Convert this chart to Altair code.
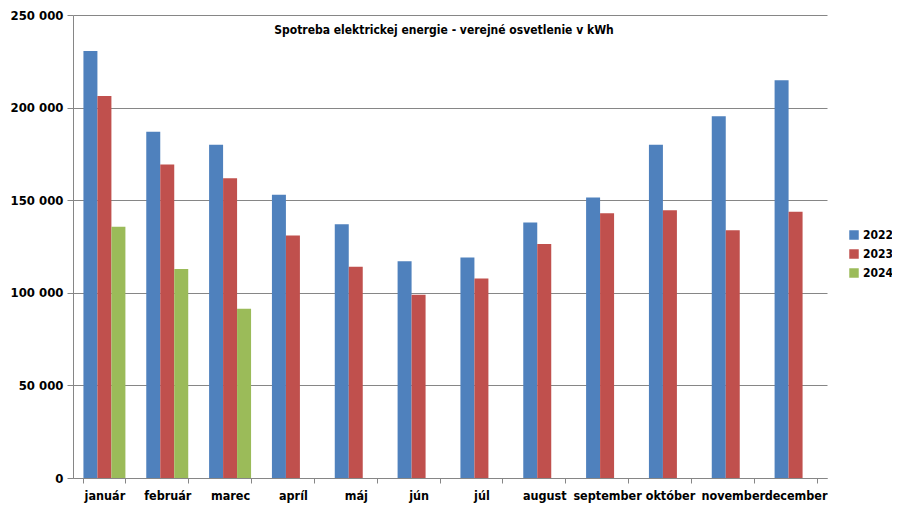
import altair as alt
import pandas as pd

months = ["január", "február", "marec", "apríl", "máj", "jún", "júl",
          "august", "september", "október", "november", "december"]
years = ["2022", "2023", "2024"]
v2022 = [230500, 187000, 180000, 153000, 137000, 117000, 119000, 138000, 151500, 180000, 195300, 214800]
v2023 = [206300, 169300, 161800, 131000, 114000, 99000, 107700, 126400, 143000, 144600, 133800, 143700]
v2024 = [135600, 112900, 91400]
colors = ["#4F81BD", "#C0504D", "#9BBB59"]

rows = []
for y, vals in zip(years, [v2022, v2023, v2024]):
    for m, v in zip(months, vals):
        rows.append({"mesiac": m, "rok": y, "kwh": v})
df = pd.DataFrame(rows)

FONT = "Liberation Sans Narrow, DejaVu Sans Condensed, Arial Narrow, sans-serif"

chart = alt.Chart(df).mark_bar().encode(
    x=alt.X("mesiac:N", sort=months,
            scale=alt.Scale(paddingInner=0.332, paddingOuter=0.166),
            axis=alt.Axis(title=None, labelAngle=0, tickBand="extent", grid=False,
                          labelFontWeight="bold", labelFontSize=12.5, labelPadding=6,
                          tickSize=5, domainColor="#868686", tickColor="#868686",
                          labelColor="#000000", labelFont=FONT)),
    xOffset=alt.XOffset("rok:N", sort=years, scale=alt.Scale(domain=years, paddingInner=0, paddingOuter=0)),
    y=alt.Y("kwh:Q", scale=alt.Scale(domain=[0, 250000], nice=False),
            axis=alt.Axis(title=None, values=[0, 50000, 100000, 150000, 200000, 250000],
                          labelExpr="replace(format(datum.value, ',d'), regexp(',', 'g'), ' ')",
                          labelFontWeight="bold", labelFontSize=13, labelPadding=4,
                          tickSize=6, domainColor="#868686", tickColor="#868686",
                          gridColor="#868686", gridWidth=1, gridOpacity=1,
                          labelColor="#000000", labelFont=FONT)),
    color=alt.Color("rok:N", sort=years,
                    scale=alt.Scale(domain=years, range=colors),
                    legend=alt.Legend(title=None, orient="none", legendX=775, legendY=214,
                                      symbolType="square", symbolSize=90, symbolStrokeWidth=0,
                                      labelFontSize=12, labelFontWeight="bold", labelFont=FONT,
                                      labelColor="#000000", rowPadding=7, labelOffset=3)),
).properties(
    width=754, height=463,
    title=alt.TitleParams("Spotreba elektrickej energie - verejné osvetlenie v kWh",
                          fontSize=12, fontWeight="bold", font=FONT, color="#000000",
                          anchor="middle", offset=-28, dx=-6),
    autosize=alt.AutoSizeParams(type="none"),
    padding={"left": 65, "top": 7, "right": 65, "bottom": 40},
).configure(
    background="#ffffff",
    view=alt.ViewConfig(strokeOpacity=0, strokeWidth=0, stroke="transparent"),
    style={"cell": {"stroke": "transparent", "strokeWidth": 0}},
)

chart.save("out.html", embed_options={"renderer": "svg", "actions": False})
